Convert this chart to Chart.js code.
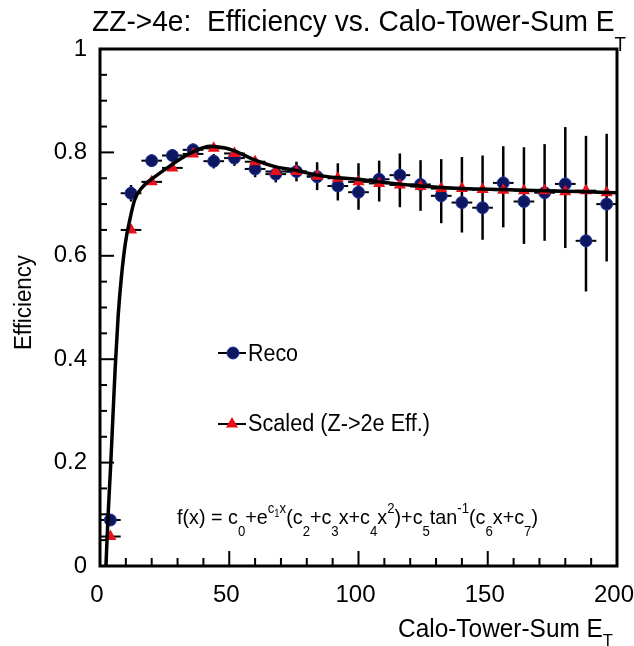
<!DOCTYPE html>
<html>
<head>
<meta charset="utf-8">
<script src="https://cdn.jsdelivr.net/npm/chart.js@4.4.0/dist/chart.umd.min.js"></script>
<style>
  body { margin: 0; background: #fff; }
  canvas { display: block; }
</style>
</head>
<body>
<canvas id="grafico" width="634" height="646"></canvas>
<script>
// bin centres (Calo-Tower-Sum ET), bin half width = x error
const binX = [4, 12, 20, 28, 36, 44, 52, 60, 68, 76, 84, 92, 100, 108, 116, 124, 132, 140, 148, 156, 164, 172, 180, 188, 196];
const binHalf = 4;

// Reco efficiency and its (asymmetric) errors
const recoEff = [0.089, 0.721, 0.784, 0.794, 0.805, 0.783, 0.789, 0.768, 0.758, 0.763, 0.753, 0.735, 0.723,
                 0.748, 0.756, 0.738, 0.716, 0.703, 0.693, 0.741, 0.705, 0.722, 0.739, 0.629, 0.700];
const recoErrUp = [0.010, 0.016, 0.012, 0.012, 0.012, 0.014, 0.015, 0.016, 0.016, 0.019, 0.028, 0.044, 0.056,
                   0.036, 0.042, 0.047, 0.071, 0.088, 0.101, 0.071, 0.105, 0.094, 0.110, 0.203, 0.136];
const recoErrDown = [0.010, 0.016, 0.012, 0.012, 0.012, 0.014, 0.015, 0.016, 0.016, 0.019, 0.026, 0.028, 0.034,
                     0.043, 0.062, 0.051, 0.053, 0.058, 0.062, 0.086, 0.082, 0.093, 0.124, 0.098, 0.111];

// Scaled (Z->2e Eff.)
const scaledEff = [0.057, 0.650, 0.743, 0.770, 0.797, 0.808, 0.798, 0.782, 0.763, 0.763, 0.754, 0.750, 0.743,
                   0.740, 0.737, 0.734, 0.730, 0.730, 0.728, 0.727, 0.726, 0.726, 0.724, 0.726, 0.722];

// fit curve
const fitX = [2.3, 3.1, 4.1, 5.0, 5.9, 7.0, 8.3, 9.8, 11.5, 13.4, 16.6, 21, 26, 30, 36, 42.5, 48, 52, 60, 68, 76, 84, 92, 100, 108, 124, 140, 156, 172, 188, 200];
const fitY = [0, 0.095, 0.192, 0.289, 0.385, 0.482, 0.560, 0.624, 0.669, 0.708, 0.734, 0.752, 0.770, 0.784, 0.801, 0.812, 0.809, 0.803, 0.785, 0.772, 0.765, 0.756, 0.751, 0.748, 0.743, 0.735, 0.730, 0.728, 0.726, 0.724, 0.722];

const xTicks = [0, 50, 100, 150, 200];
const yTicks = [0, 0.2, 0.4, 0.6, 0.8, 1];

const FONT = '"Liberation Sans", Arial, Helvetica, sans-serif';

function linea(ctx, x1, y1, x2, y2) {
    ctx.beginPath();
    ctx.moveTo(x1, y1);
    ctx.lineTo(x2, y2);
    ctx.stroke();
}

// draws text pieces (normal / sub / sup) squeezed to a given width
function textoPartes(ctx, partes, x, y, ancho, estilos) {
    let total = 0;
    partes.forEach(([t, s]) => {
        ctx.font = estilos[s].size + 'px ' + FONT;
        total += ctx.measureText(t).width;
    });
    const k = ancho / total;
    ctx.save();
    ctx.translate(x, y);
    ctx.scale(k, 1);
    ctx.fillStyle = '#000';
    ctx.textBaseline = 'alphabetic';
    ctx.textAlign = 'left';
    let cx = 0;
    partes.forEach(([t, s]) => {
        ctx.font = estilos[s].size + 'px ' + FONT;
        ctx.fillText(t, cx, estilos[s].dy);
        cx += ctx.measureText(t).width;
    });
    ctx.restore();
}

function circulo(ctx, x, y, r) {
    ctx.beginPath();
    ctx.arc(x, y, r, 0, Math.PI * 2);
    ctx.fillStyle = '#0d1760';
    ctx.fill();
    ctx.strokeStyle = '#22339f';
    ctx.lineWidth = 1;
    ctx.stroke();
}

function triangulo(ctx, x, y, r) {
    ctx.beginPath();
    ctx.moveTo(x, y - r);
    ctx.lineTo(x + r * Math.sin(Math.PI / 3), y + r / 2);
    ctx.lineTo(x - r * Math.sin(Math.PI / 3), y + r / 2);
    ctx.closePath();
    ctx.fillStyle = '#e8101a';
    ctx.fill();
}

const decorado = {
    id: 'decorado',
    beforeDatasetsDraw(chart) {
        const ctx = chart.ctx;
        const xs = chart.scales.x, ys = chart.scales.y;
        ctx.save();
        ctx.strokeStyle = '#000';
        binX.forEach((x, i) => {
            const px = xs.getPixelForValue(x);
            const l = xs.getPixelForValue(x - binHalf);
            const r = xs.getPixelForValue(x + binHalf);
            ctx.lineWidth = 2.5;
            linea(ctx, px, ys.getPixelForValue(recoEff[i] - recoErrDown[i]), px, ys.getPixelForValue(recoEff[i] + recoErrUp[i]));
            ctx.lineWidth = 2;
            const py = ys.getPixelForValue(recoEff[i]);
            linea(ctx, l, py, r, py);
            const ps = ys.getPixelForValue(scaledEff[i]);
            linea(ctx, l, ps, r, ps);
        });
        ctx.restore();
    },
    afterDraw(chart) {
        const ctx = chart.ctx;
        const a = chart.chartArea;
        const xs = chart.scales.x, ys = chart.scales.y;
        ctx.save();
        // frame
        ctx.strokeStyle = '#000';
        ctx.lineWidth = 3;
        ctx.strokeRect(a.left, a.top, a.right - a.left, a.bottom - a.top);
        // inward ticks
        ctx.lineWidth = 2;
        for (let k = 0; k <= 20; k++) {
            const px = xs.getPixelForValue(k * 10);
            linea(ctx, px, a.bottom, px, a.bottom - (k % 5 === 0 ? 15 : 8));
        }
        for (let k = 0; k <= 20; k++) {
            const py = ys.getPixelForValue(k * 0.05);
            linea(ctx, a.left, py, a.left + (k % 4 === 0 ? 14 : 7), py);
        }
        ctx.restore();

        // title
        textoPartes(ctx, [['ZZ->4e:  Efficiency vs. Calo-Tower-Sum E', 'n'], ['T', 'sub']], 92, 31, 534,
            { n: { size: 30, dy: 0 }, sub: { size: 20, dy: 20 } });
        // x title
        textoPartes(ctx, [['Calo-Tower-Sum E', 'n'], ['T', 'sub']], 398, 637, 215,
            { n: { size: 25, dy: 0 }, sub: { size: 17, dy: 9 } });
        // y title
        ctx.save();
        ctx.translate(31, 350);
        ctx.rotate(-Math.PI / 2);
        textoPartes(ctx, [['Efficiency', 'n']], 0, 0, 95, { n: { size: 23, dy: 0 } });
        ctx.restore();

        // legend
        ctx.save();
        ctx.strokeStyle = '#000';
        ctx.lineWidth = 2;
        linea(ctx, 218, 353, 246, 353);
        circulo(ctx, 233, 353, 6);
        ctx.strokeStyle = '#000';
        ctx.lineWidth = 2;
        linea(ctx, 218, 424, 246, 424);
        triangulo(ctx, 232, 424, 7);
        ctx.restore();
        textoPartes(ctx, [['Reco', 'n']], 248, 361, 50, { n: { size: 23, dy: 0 } });
        textoPartes(ctx, [['Scaled (Z->2e Eff.)', 'n']], 248, 431, 182, { n: { size: 23, dy: 0 } });

        // formula
        const f = [['f(x) = c', 'n'], ['0', 'sub'], ['+e', 'n'], ['c', 'sup'], ['1', 'ss'], ['x', 'sup'],
                   ['(c', 'n'], ['2', 'sub'], ['+c', 'n'], ['3', 'sub'], ['x+c', 'n'], ['4', 'sub'], ['x', 'n'],
                   ['2', 'sup'], [')+c', 'n'], ['5', 'sub'], ['tan', 'n'], ['-1', 'sup'], ['(c', 'n'], ['6', 'sub'],
                   ['x+c', 'n'], ['7', 'sub'], [')', 'n']];
        textoPartes(ctx, f, 177, 524, 361, {
            n: { size: 21, dy: 0 },
            sub: { size: 14, dy: 12 },
            sup: { size: 14, dy: -11 },
            ss: { size: 10, dy: -7 }
        });
    }
};

const grafico = new Chart(document.getElementById('grafico'), {
    type: 'scatter',
    data: {
        datasets: [
            {
                label: 'fit',
                data: fitX.map((x, i) => ({ x: x, y: fitY[i] })),
                showLine: true,
                pointRadius: 0,
                borderColor: '#000',
                borderWidth: 3.5,
                cubicInterpolationMode: 'monotone',
                order: 0
            },
            {
                label: 'Scaled (Z->2e Eff.)',
                data: binX.map((x, i) => ({ x: x, y: scaledEff[i] })),
                pointStyle: 'triangle',
                pointRadius: 7,
                backgroundColor: '#e8101a',
                borderColor: '#e8101a',
                borderWidth: 0,
                order: 1
            },
            {
                label: 'Reco',
                data: binX.map((x, i) => ({ x: x, y: recoEff[i] })),
                pointStyle: 'circle',
                pointRadius: 6,
                backgroundColor: '#0d1760',
                borderColor: '#22339f',
                borderWidth: 1,
                order: 2
            }
        ]
    },
    options: {
        responsive: false,
        animation: false,
        devicePixelRatio: 1,
        layout: { padding: { top: 49, right: 17, left: 0, bottom: 0 } },
        plugins: {
            legend: { display: false },
            tooltip: { enabled: false }
        },
        scales: {
            x: {
                type: 'linear',
                min: 0,
                max: 200,
                afterBuildTicks: (s) => { s.ticks = xTicks.map(v => ({ value: v })); },
                afterFit: (s) => { s.height = 80; s.paddingLeft = 0; s.paddingRight = 0; },
                grid: { display: false, drawTicks: false },
                border: { display: false },
                ticks: { color: '#000', padding: 15, labelOffset: -3, maxRotation: 0, font: { size: 24, family: FONT },
                         callback: (v) => String(v) }
            },
            y: {
                min: 0,
                max: 1,
                afterBuildTicks: (s) => { s.ticks = yTicks.map(v => ({ value: v })); },
                afterFit: (s) => { s.width = 100; s.paddingTop = 0; s.paddingBottom = 0; },
                grid: { display: false, drawTicks: false },
                border: { display: false },
                ticks: { color: '#000', padding: 13, font: { size: 24, family: FONT },
                         callback: (v) => String(v) }
            }
        }
    },
    plugins: [decorado]
});
</script>
</body>
</html>
